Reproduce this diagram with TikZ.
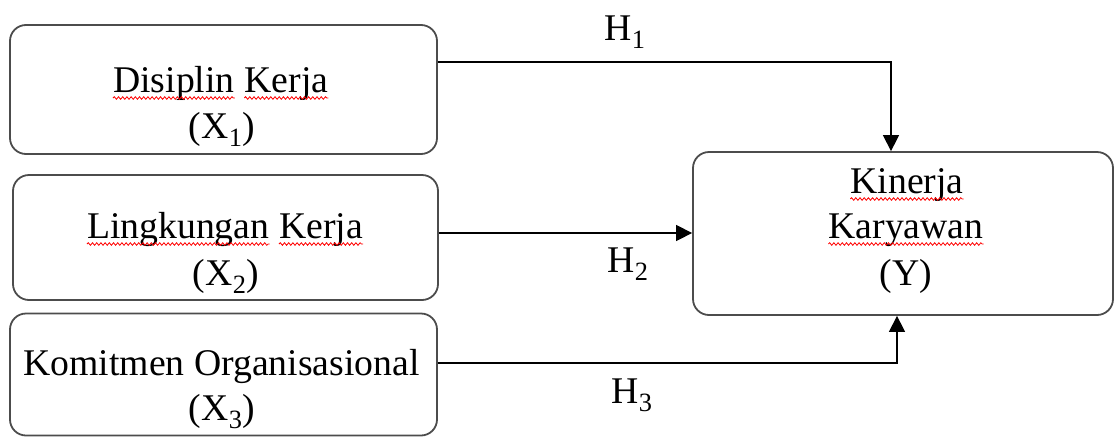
\documentclass[tikz,border=0pt]{standalone}
\usepackage{fontspec}
\setmainfont{Liberation Serif}
\usetikzlibrary{arrows.meta,decorations.pathmorphing}
\tikzset{
  box/.style={draw=black!70, line width=1.8pt, rounded corners=16pt, rectangle, inner sep=0pt},
  txt/.style={inner sep=0pt, anchor=base, font=\fontsize{37.7pt}{46pt}\selectfont},
  wtxt/.style={txt, anchor=base west},
  arr/.style={draw=black, line width=1.4pt, -{Triangle[width=16pt,length=16pt]}},
  wave/.style={draw=red, line width=0.8pt, decorate, decoration={snake, amplitude=1.3pt, segment length=4.2pt}},
}
\newcommand\spell[1]{\draw[wave] ([yshift=-6pt]#1.base west) -- ([yshift=-6pt]#1.base east);}
\begin{document}
\begin{tikzpicture}[x=1pt,y=-1pt]
\useasboundingbox (0,0) rectangle (1114,437);
% boxes
\node[box, minimum width=427pt, minimum height=129pt] (b1) at (223.5,89.5) {};
\node[box, minimum width=425pt, minimum height=125pt] (b2) at (225.5,237.5) {};
\node[box, minimum width=427pt, minimum height=122pt] (b3) at (223.5,374.5) {};
\node[box, minimum width=420pt, minimum height=163pt] (y) at (903,233.5) {};
% texts
\node[wtxt] (t1a) at (113,92) {Disiplin};
\node[wtxt] (t1c) at ([xshift=9.4pt]t1a.base east) {Kerja};
\node[txt] (t1b) at (222,138) {(X\textsubscript{1})};
\node[wtxt] (t2a) at (87,238) {Lingkungan};
\node[wtxt] (t2c) at ([xshift=9.4pt]t2a.base east) {Kerja};
\node[txt] (t2b) at (226,285) {(X\textsubscript{2})};
\node[txt] (t3a) at (221.5,375) {Komitmen Organisasional};
\node[txt] (t3b) at (222,420) {(X\textsubscript{3})};
\node[txt] (tya) at (907,193) {Kinerja};
\node[txt] (tyb) at (906,238) {Karyawan};
\node[txt] (tyc) at (906,285) {(Y)};
% spelling marks
\spell{t1a}\spell{t1c}\spell{t2a}\spell{t2c}\spell{tya}\spell{tyb}
% hypothesis labels
\node[txt] (h1) at (625,40) {H\textsubscript{1}};
\node[txt] (h2) at (628,272) {H\textsubscript{2}};
\node[txt] (h3) at (632,403) {H\textsubscript{3}};
% connectors
\draw[arr] ([yshift=27.5pt]b1.east) -| ([xshift=-12pt]y.north);
\draw[arr] ([yshift=4.5pt]b2.east) -- ([yshift=4.5pt]b2.east -| y.west);
\draw[arr] ([yshift=11.5pt]b3.east) -| ([xshift=-6pt]y.south);
\end{tikzpicture}
\end{document}
